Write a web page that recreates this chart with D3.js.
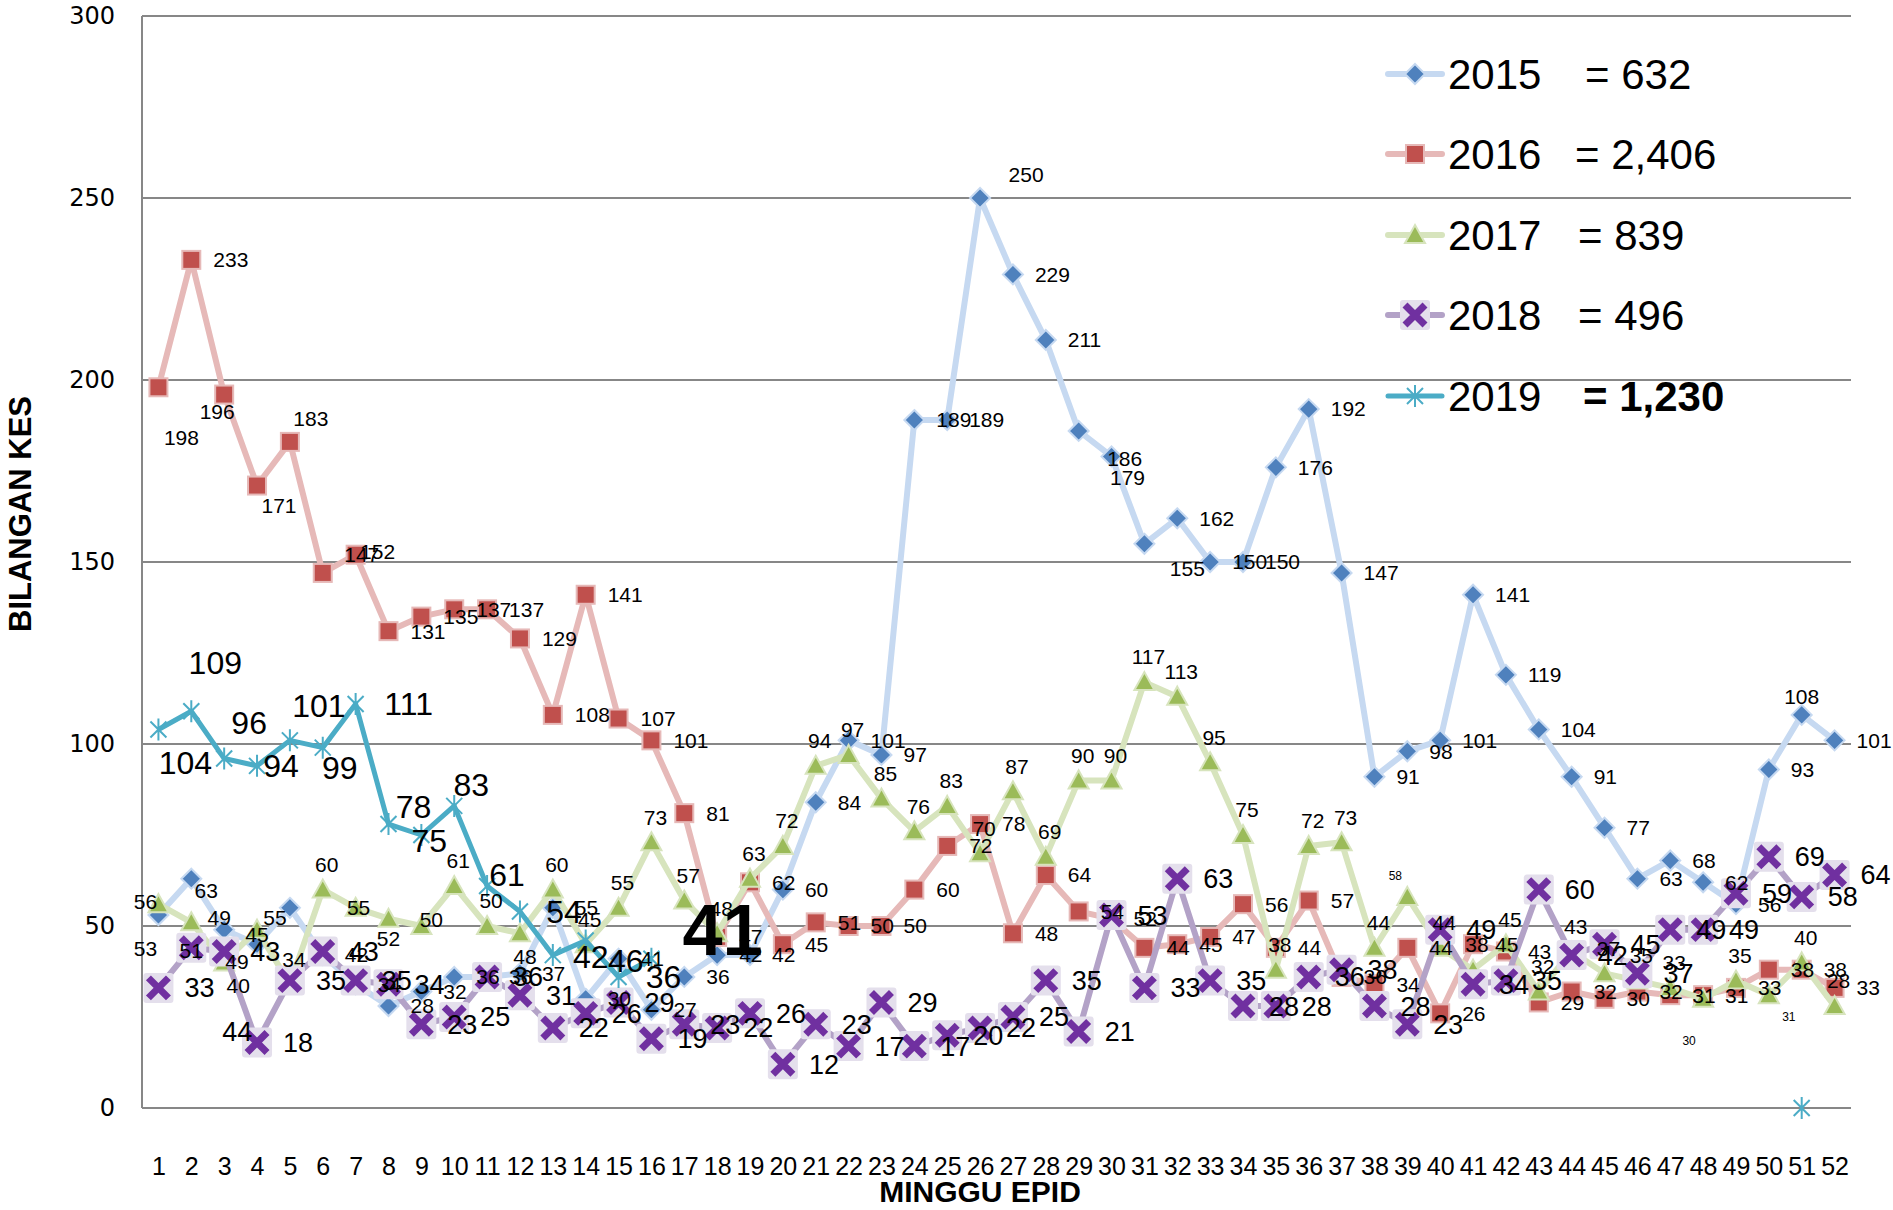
<!DOCTYPE html>
<html>
<head>
<meta charset="utf-8">
<script src="https://cdn.jsdelivr.net/npm/d3@7"></script>
<style>
  body { margin: 0; background: #fff; }
  svg { display: block; }
</style>
</head>
<body>
<div id="chart"></div>
<script>
// weekly case counts (MINGGU EPID 1-52)
const weeks = d3.range(1, 53);

const y2015 = [53, 63, 49, 45, 55, 42, 34, 28, 32, 36, 36, 37, 55, 30, 41, 27, 36, 42, 42, 60,
    84, 101, 97, 189, 189, 250, 229, 211, 186, 179, 155, 162, 150, 150, 176, 192, 147, 91, 98, 101,
    141, 119, 104, 91, 77, 63, 68, 62, 56, 93, 108, 101];

const y2016 = [198, 233, 196, 171, 183, 147, 152, 131, 135, 137, 137, 129, 108, 141, 107, 101, 81, 47, 62, 45,
    51, 50, 50, 60, 72, 78, 48, 64, 54, 52, 44, 45, 47, 56, 44, 57, 36, 34, 44, 26,
    45, 43, 29, 32, 30, 32, 31, 31, 33, 38, 38, 33];

const y2017 = [56, 51, 40, 49, 34, 60, 55, 52, 50, 61, 50, 48, 60, 45, 55, 73, 57, 48, 63, 72,
    94, 97, 85, 76, 83, 70, 87, 69, 90, 90, 117, 113, 95, 75, 38, 72, 73, 44, 58, 44,
    38, 45, 32, 43, 37, 35, 33, 30, 35, 31, 40, 28];

const y2018 = [33, 44, 43, 18, 35, 43, 35, 34, 23, 25, 36, 31, 22, 26, 29, 19, 23, 22, 26, 12,
    23, 17, 29, 17, 20, 22, 25, 35, 21, 53, 33, 63, 35, 28, 28, 36, 38, 28, 23, 49,
    34, 35, 60, 42, 45, 37, 49, 49, 59, 69, 58, 64];

// 2019 only has weeks 1-16, plus a stray zero at week 51
const y2019 = [104, 109, 96, 94, 101, 99, 111, 78, 75, 83, 61, 54, 42, 46, 36, 41];
const y2019Late = [{ week: 51, value: 0 }];

const years = ["2015", "2016", "2017", "2018", "2019"];
const totals = ["= 632", "= 2,406", "= 839", "= 496", "= 1,230"];
const yTicks = [0, 50, 100, 150, 200, 250, 300];

const W = 1893, H = 1210;
const margin = { top: 16, right: 42, bottom: 102, left: 142 };

const svg = d3.select("#chart").append("svg")
    .attr("width", W)
    .attr("height", H);

const xScale = d3.scalePoint()
    .domain(weeks)
    .range([margin.left, W - margin.right])
    .padding(0.5);

const yScale = d3.scaleLinear()
    .domain([0, 300])
    .range([H - margin.bottom, margin.top]);

const gridColor = "#878787";

// gridlines
svg.append("g")
    .selectAll("line")
    .data(yTicks)
    .enter()
    .append("line")
    .attr("x1", margin.left)
    .attr("x2", W - margin.right)
    .attr("y1", d => yScale(d))
    .attr("y2", d => yScale(d))
    .attr("stroke", gridColor)
    .attr("stroke-width", 2);

// left axis line
svg.append("line")
    .attr("x1", margin.left).attr("x2", margin.left)
    .attr("y1", yScale(300)).attr("y2", yScale(0))
    .attr("stroke", gridColor)
    .attr("stroke-width", 2);

// y axis labels
const yAxis = svg.append("g")
    .attr("transform", "translate(" + (margin.left - 27) + ",0)")
    .call(d3.axisLeft(yScale).tickValues(yTicks).tickSize(0).tickPadding(0));
yAxis.select(".domain").remove();
yAxis.selectAll("text")
    .attr("font-family", "DejaVu Sans")
    .attr("font-size", 24)
    .attr("fill", "#000");

// x axis labels
const xAxis = svg.append("g")
    .attr("transform", "translate(0," + yScale(0) + ")")
    .call(d3.axisBottom(xScale).tickSize(0).tickPadding(0));
xAxis.select(".domain").remove();
xAxis.selectAll("text")
    .attr("dy", null)
    .attr("y", 67)
    .attr("font-family", "Liberation Sans")
    .attr("font-size", 25)
    .attr("fill", "#000");

// axis titles
svg.append("text")
    .attr("transform", "translate(31,514) rotate(-90)")
    .attr("text-anchor", "middle")
    .attr("font-family", "Liberation Sans")
    .attr("font-weight", "bold")
    .attr("font-size", 31)
    .text("BILANGAN KES");

svg.append("text")
    .attr("x", 980)
    .attr("y", 1202)
    .attr("text-anchor", "middle")
    .attr("font-family", "Liberation Sans")
    .attr("font-weight", "bold")
    .attr("font-size", 30)
    .text("MINGGU EPID");

// series styles
const styles = {
    "2015": { line: "#c6d9f1", width: 6, marker: "diamond", fill: "#4f81bd", edge: "#c6d9f1" },
    "2016": { line: "#e6b9b8", width: 6, marker: "square", fill: "#c0504d", edge: "#e6b9b8" },
    "2017": { line: "#d7e4bd", width: 6, marker: "triangle", fill: "#9bbb59", edge: "#d7e4bd" },
    "2018": { line: "#b3a2c7", width: 6, marker: "cross", fill: "#7030a0", edge: "#e4dfec" },
    "2019": { line: "#4bacc6", width: 5, marker: "star", fill: "#4bacc6", edge: "#4bacc6" }
};

function drawMarker(g, type, st) {
    if (type === "diamond") {
        g.append("path")
            .attr("d", "M0,-10L10,0L0,10L-10,0Z")
            .attr("fill", st.fill).attr("stroke", st.edge).attr("stroke-width", 2);
    } else if (type === "square") {
        g.append("rect")
            .attr("x", -9).attr("y", -9).attr("width", 18).attr("height", 18)
            .attr("fill", st.fill).attr("stroke", st.edge).attr("stroke-width", 2);
    } else if (type === "triangle") {
        g.append("path")
            .attr("d", "M0,-10L10,8L-10,8Z")
            .attr("fill", st.fill).attr("stroke", st.edge).attr("stroke-width", 2);
    } else if (type === "cross") {
        g.append("rect")
            .attr("x", -15).attr("y", -15).attr("width", 30).attr("height", 30).attr("rx", 3)
            .attr("fill", st.edge);
        g.append("path")
            .attr("d", "M-10,-10L10,10M10,-10L-10,10")
            .attr("stroke", st.fill).attr("stroke-width", 7);
    } else if (type === "star") {
        g.append("path")
            .attr("d", "M0,-11L0,11M-8,-8L8,8M8,-8L-8,8")
            .attr("stroke", st.fill).attr("stroke-width", 2);
    }
}

const allData = {
    "2015": y2015.map((v, i) => ({ week: weeks[i], value: v })),
    "2016": y2016.map((v, i) => ({ week: weeks[i], value: v })),
    "2017": y2017.map((v, i) => ({ week: weeks[i], value: v })),
    "2018": y2018.map((v, i) => ({ week: weeks[i], value: v })),
    "2019": y2019.map((v, i) => ({ week: weeks[i], value: v }))
};

const line = d3.line()
    .x(d => xScale(d.week))
    .y(d => yScale(d.value));

// lines and markers, series by series
years.forEach(yr => {
    const st = styles[yr];
    const g = svg.append("g").attr("class", "series-" + yr);
    g.append("path")
        .datum(allData[yr])
        .attr("d", line)
        .attr("fill", "none")
        .attr("stroke", st.line)
        .attr("stroke-width", st.width)
        .attr("stroke-linejoin", "round");
    let pts = allData[yr];
    if (yr === "2019") pts = pts.concat(y2019Late);
    pts.forEach(d => {
        const m = g.append("g")
            .attr("transform", "translate(" + xScale(d.week) + "," + yScale(d.value) + ")");
        drawMarker(m, st.marker, st);
    });
});

// ---- data labels ----
// default placement per series: label centre offset from the marker
const labelDefaults = {
    "2015": { size: 21, pos: "right" },
    "2016": { size: 21, pos: "right" },
    "2017": { size: 21, pos: [4, -25] },
    "2018": { size: 27, pos: "right" },
    "2019": { size: 32, pos: [40, 0] }
};

// hand-moved labels, keyed by week: centre offset [dx, dy]
const labelNudges = {
    "2015": { 1: [-13, 34], 2: [15, 12], 3: [-5, -12], 4: [0, -10], 5: [-15, 10],
        26: [46, -23], 29: [46, 28], 30: [16, 21], 31: [43, 25], 51: [0, -18] },
    "2016": { 1: [23, 50], 3: [-7, 17], 4: [22, 20], 5: [21, -23], 6: [39, -18], 7: [22, -3] },
    "2017": { 1: [-13, -3], 2: [0, 28], 3: [14, 23], 4: [-20, 32], 7: [3, 0], 8: [0, 20],
        9: [10, -6], 12: [5, 23], 39: [-12, -21], 48: [-14, 42], 50: [20, 22] },
    "2018": { 2: [46, 84] },
    "2019": { 1: [27, 33], 2: [24, -48], 3: [25, -36], 4: [24, 0], 5: [29, -35], 6: [17, 20],
        7: [53, 0], 8: [25, -17], 9: [8, 6], 10: [17, -21], 11: [20, -11], 12: [44, 0],
        13: [38, 2], 14: [40, 20], 15: [45, 0] }
};

// labels Excel shrank to a tiny font
const tinyLabels = { "2017": [39, 48, 50] };

const labels = svg.append("g")
    .attr("font-family", "Liberation Sans")
    .attr("fill", "#000");

years.forEach(yr => {
    const def = labelDefaults[yr];
    const nudges = labelNudges[yr] || {};
    const tiny = tinyLabels[yr] || [];
    let pts = allData[yr];
    if (yr === "2019") pts = pts.slice(0, pts.length - 1); // last one is highlighted below
    pts.forEach(d => {
        const x = xScale(d.week), y = yScale(d.value);
        const size = tiny.includes(d.week) ? 12 : def.size;
        const t = labels.append("text").attr("font-size", size).text(d.value);
        const off = nudges[d.week] || (def.pos === "right" ? null : def.pos);
        if (off) {
            t.attr("x", x + off[0]).attr("y", y + off[1] + size * 0.35)
                .attr("text-anchor", "middle");
        } else {
            t.attr("x", x + (yr === "2018" ? 26 : 22)).attr("y", y + size * 0.35);
        }
    });
});

// latest 2019 week, highlighted
const last2019 = allData["2019"][allData["2019"].length - 1];
labels.append("text")
    .attr("x", xScale(last2019.week) + 31)
    .attr("y", yScale(last2019.value) - 4)
    .attr("font-size", 72)
    .attr("font-weight", "bold")
    .text(last2019.value);

// ---- legend ----
const legendY = [74, 154, 235, 315, 396];
const legendTotalX = [1585, 1575, 1578, 1578, 1583];
const legend = svg.append("g");
years.forEach((yr, i) => {
    const st = styles[yr];
    const g = legend.append("g").attr("transform", "translate(0," + legendY[i] + ")");
    g.append("line")
        .attr("x1", 1388).attr("x2", 1442)
        .attr("stroke", st.line)
        .attr("stroke-width", st.width)
        .attr("stroke-linecap", "round");
    drawMarker(g.append("g").attr("transform", "translate(1415,0)"), st.marker, st);
    g.append("text")
        .attr("x", 1448)
        .attr("y", 15)
        .attr("font-family", "Liberation Sans")
        .attr("font-size", 42)
        .text(yr);
    g.append("text")
        .attr("x", legendTotalX[i])
        .attr("y", 15)
        .attr("font-family", "Liberation Sans")
        .attr("font-size", 42)
        .attr("font-weight", yr === "2019" ? "bold" : "normal")
        .text(totals[i]);
});
</script>
</body>
</html>
